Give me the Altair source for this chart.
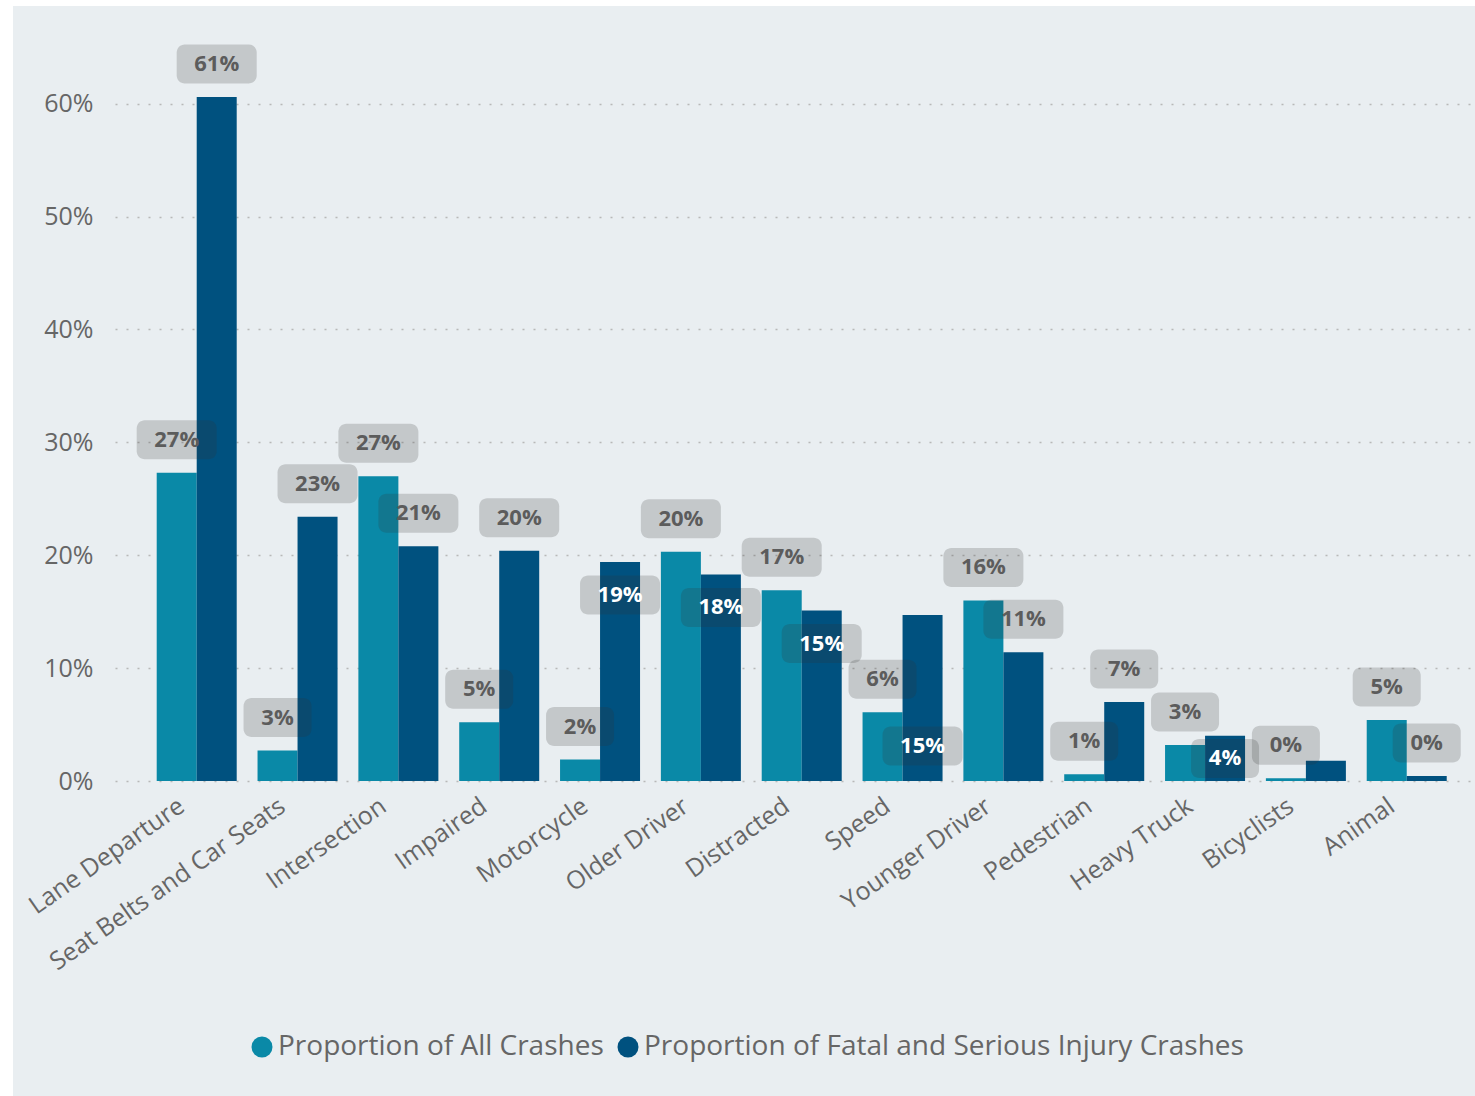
import altair as alt
import pandas as pd

categories = ["Lane Departure", "Seat Belts and Car Seats", "Intersection", "Impaired",
              "Motorcycle", "Older Driver", "Distracted", "Speed", "Younger Driver",
              "Pedestrian", "Heavy Truck", "Bicyclists", "Animal"]
all_crashes = [0.273, 0.027, 0.270, 0.052, 0.019, 0.203, 0.169, 0.061, 0.160, 0.006, 0.032, 0.0025, 0.054]
fatal_crashes = [0.606, 0.234, 0.208, 0.204, 0.194, 0.183, 0.151, 0.147, 0.114, 0.070, 0.040, 0.018, 0.0045]
all_label_place = ["above"] * 13
fatal_label_place = ["above", "above", "above", "above", "inside", "inside", "inside",
                     "base", "above", "above", "middle", "none", "above"]
series_names = ["Proportion of All Crashes", "Proportion of Fatal and Serious Injury Crashes"]
series_colors = ["#0A89A7", "#00517F"]
y_ticks = [0, 0.1, 0.2, 0.3, 0.4, 0.5, 0.6]

W, H, YMAX = 1360, 745, 0.66
PXU = YMAX / H
FONT = "Open Sans"

rows = []
for i, c in enumerate(categories):
    rows.append(dict(category=c, series=series_names[0], value=all_crashes[i], place=all_label_place[i]))
    rows.append(dict(category=c, series=series_names[1], value=fatal_crashes[i], place=fatal_label_place[i]))
df = pd.DataFrame(rows)

x_axis = alt.Axis(title=None, domain=False, ticks=False, labelAngle=-35,
                  labelAlign="right", labelBaseline="middle", labelPadding=22,
                  labelOffset=-15, labelFontSize=25, labelFont=FONT,
                  labelColor="#666666", labelLimit=0, labelOverlap=False)
x_enc = alt.X("category:N", sort=categories,
              scale=alt.Scale(paddingInner=0.2066, paddingOuter=0.347, align=0.596),
              axis=x_axis)
xo_enc = alt.XOffset("series:N", scale=alt.Scale(domain=series_names, paddingInner=0, paddingOuter=0))
y_scale = alt.Scale(domain=[0, YMAX], nice=False, zero=True)
y_axis = alt.Axis(title=None, values=y_ticks, format=".0%", domain=False, ticks=False,
                  labelPadding=22, labelFontSize=25, labelFont=FONT, labelColor="#666666",
                  grid=True, gridDash=[2, 9], gridColor="#B8B8B8", gridWidth=1.5)

base = alt.Chart(df)
one = pd.DataFrame({"a": [0]})

# white page margins around the grey panel
strip_left = alt.Chart(one).mark_rect(color="#FFFFFF").encode(
    x=alt.value(-115), x2=alt.value(-102), y=alt.value(-36), y2=alt.value(H + 315))
strip_top = alt.Chart(one).mark_rect(color="#FFFFFF").encode(
    x=alt.value(-115), x2=alt.value(W), y=alt.value(-36), y2=alt.value(-30))

bars = base.mark_bar().encode(
    x=x_enc, xOffset=xo_enc,
    y=alt.Y("value:Q", scale=y_scale, axis=y_axis),
    color=alt.Color("series:N", scale=alt.Scale(domain=series_names, range=series_colors),
                    legend=alt.Legend(title=None, orient="none", legendX=133, legendY=997,
                                      direction="horizontal", symbolType="circle", symbolSize=441,
                                      symbolStrokeWidth=0, labelFontSize=28, labelFont=FONT,
                                      labelColor="#666666", labelOffset=2, columnPadding=10,
                                      padding=0, labelLimit=0)),
)

lb = base.transform_filter("datum.place != 'none'").transform_calculate(
    anchor="datum.place == 'base' ? 0 : (datum.place == 'middle' ? datum.value / 2 : datum.value)",
    shift="datum.place == 'above' ? -33 : (datum.place == 'inside' ? 33 : (datum.place == 'base' ? -35 : 0))",
    ly=f"datum.anchor - datum.shift * {PXU}",
    ly0=f"datum.ly - 19.5 * {PXU}",
    ly1=f"datum.ly + 19.5 * {PXU}",
    label="format(datum.value, '.0%')",
    boxw="length(datum.label) * 12 + 44",
)

boxes = lb.mark_bar(cornerRadius=8, color="#333333", opacity=0.2).encode(
    x=x_enc, xOffset=xo_enc,
    y=alt.Y("ly0:Q", scale=y_scale, axis=y_axis), y2="ly1:Q",
    size=alt.Size("boxw:Q", scale=None, legend=None),
)

text_gray = lb.transform_filter("datum.place == 'above'").mark_text(
    font=FONT, fontSize=22, fontWeight="bold", baseline="middle", color="#5C5C5C").encode(
    x=x_enc, xOffset=xo_enc, y=alt.Y("ly:Q", scale=y_scale, axis=y_axis), text="label:N")

text_white = lb.transform_filter("datum.place != 'above'").mark_text(
    font=FONT, fontSize=22, fontWeight="bold", baseline="middle", color="#FFFFFF").encode(
    x=x_enc, xOffset=xo_enc, y=alt.Y("ly:Q", scale=y_scale, axis=y_axis), text="label:N")

chart = alt.layer(strip_left, strip_top, bars, boxes, text_gray, text_white).properties(
    width=W, height=H,
    padding={"left": 115, "top": 36, "right": 0, "bottom": 315},
    autosize=alt.AutoSizeParams(type="none"),
    background="#E9EEF1",
).configure_view(stroke=None)

chart.save("out.html", embed_options={"renderer": "svg", "actions": False})
